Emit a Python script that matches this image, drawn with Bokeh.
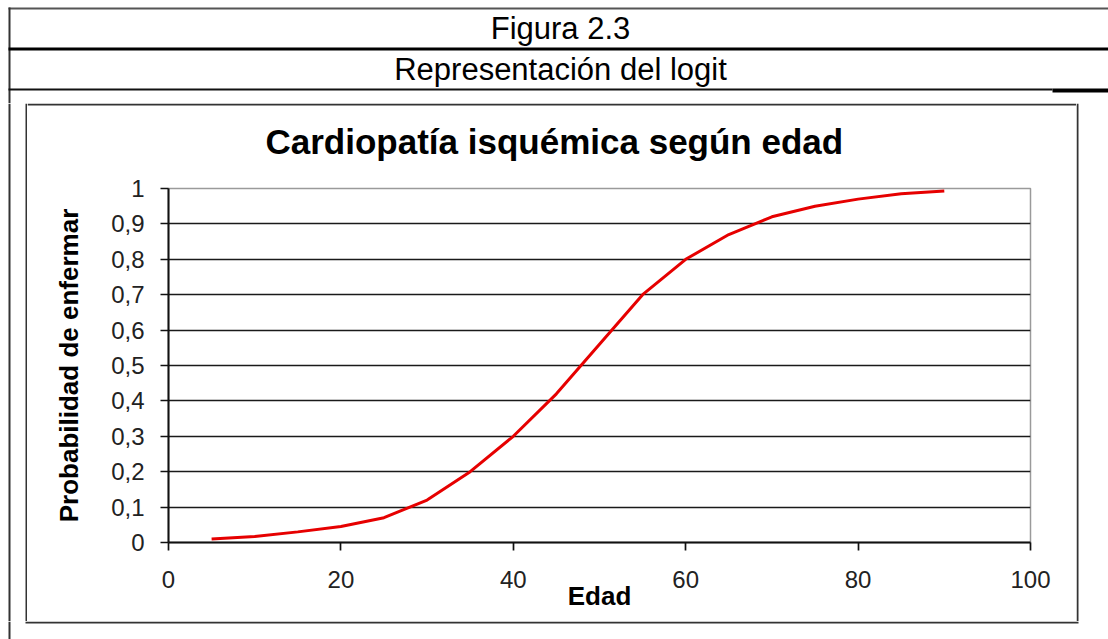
from bokeh.plotting import figure
from bokeh.models import FixedTicker, Range1d
from bokeh.layouts import column, row
from bokeh.core.properties import value
from bokeh.embed import file_html
from bokeh.resources import INLINE

# ---------------- data ----------------
edad = [5, 10, 15, 20, 25, 30, 35, 40, 45, 50, 55, 60, 65, 70, 75, 80, 85, 90]
prob = [0.010, 0.017, 0.030, 0.045, 0.070, 0.12, 0.20, 0.30, 0.42, 0.56, 0.70,
        0.80, 0.87, 0.92, 0.95, 0.97, 0.985, 0.993]
x_ticks = [0, 20, 40, 60, 80, 100]
y_ticks = [0, 0.1, 0.2, 0.3, 0.4, 0.5, 0.6, 0.7, 0.8, 0.9, 1]
y_tick_labels = ["0", "0,1", "0,2", "0,3", "0,4", "0,5", "0,6", "0,7", "0,8", "0,9", "1"]

header1 = "Figura 2.3"
header2 = "Representación del logit"
chart_title = "Cardiopatía isquémica según edad"
x_title = "Edad"
y_title = "Probabilidad de enfermar"

FONT = "Liberation Sans"
W, H = 1108, 639
LINE = "#333333"


def deco(w, h, bg="white"):
    """Plain drawing surface: frame covers the whole canvas, pixel ranges, y pointing down."""
    f = figure(width=w, height=h, output_backend="svg", toolbar_location=None,
               x_range=Range1d(0, w), y_range=Range1d(h, 0),
               x_axis_location=None, y_axis_location=None, title=None,
               min_border=0, min_border_left=0, min_border_right=0,
               min_border_top=0, min_border_bottom=0)
    f.frame_align = False
    f.grid.visible = False
    f.outline_line_color = None
    f.background_fill_color = bg
    f.border_fill_color = bg
    return f


# ---------------- header (page y 0..103) ----------------
hdr = deco(W, 103)
hdr.quad(left=[8, 8, 8, 8, 1052], right=[W, 10, W, 1052, W],
         top=[7, 7, 47, 88, 88], bottom=[9, 103, 50, 90, 92],
         fill_color=["#555555", LINE, "#000000", "#111111", "#000000"],
         line_color=None)
hdr.text(x=[560, 560], y=[28, 69], text=[header1, header2],
         text_font=value(FONT), text_font_size="31px", text_color="#000000",
         text_align="center", text_baseline="middle")

# ---------------- middle band (page y 103..621) ----------------
MH = 518
left_area = deco(27, MH)
left_area.quad(left=[8, 25], right=[10, 27], top=[0, 0], bottom=[MH, MH],
               fill_color=LINE, line_color=None)
right_area = deco(W - 1076, MH)
right_area.quad(left=[0], right=[2], top=[0], bottom=[MH], fill_color=LINE, line_color=None)

IW = 1049
TH = 72
title_fig = deco(IW, TH)
title_fig.quad(left=[0], right=[IW], top=[0], bottom=[2], fill_color=LINE, line_color=None)
title_fig.text(x=[238], y=[38], text=[chart_title],
               text_font=value(FONT), text_font_size="35px", text_font_style="bold",
               text_color="#000000", text_align="left", text_baseline="middle")

CH = MH - TH
p = figure(width=IW, height=CH, output_backend="svg", toolbar_location=None,
           x_range=(0, 100), y_range=(0, 1), title=None,
           min_border_left=141, min_border_right=IW - 1003,
           min_border_top=13, min_border_bottom=CH - 367)
p.frame_align = False
p.background_fill_color = "white"
p.border_fill_color = "white"
p.outline_line_color = "#9a9a9a"
p.outline_line_width = 1.5

p.xgrid.visible = False
p.ygrid.ticker = FixedTicker(ticks=y_ticks[1:-1])
p.ygrid.grid_line_color = "#1a1a1a"
p.ygrid.grid_line_width = 1.7

for ax in (p.xaxis[0], p.yaxis[0]):
    ax.axis_line_color = "#111111"
    ax.axis_line_width = 2
    ax.major_tick_line_color = "#111111"
    ax.major_tick_line_width = 1.7
    ax.major_tick_out = 8
    ax.major_tick_in = 0
    ax.minor_tick_line_color = None
    ax.major_label_text_font = FONT
    ax.major_label_text_font_size = "24px"
    ax.major_label_text_color = "#222222"
    ax.axis_label_text_font = FONT
    ax.axis_label_text_font_size = "26px"
    ax.axis_label_text_font_style = "bold"
    ax.axis_label_text_color = "#000000"

p.xaxis.ticker = FixedTicker(ticks=x_ticks)
p.xaxis.major_label_standoff = 20
p.xaxis.axis_label = x_title
p.xaxis.axis_label_standoff = -10
p.yaxis.ticker = FixedTicker(ticks=y_ticks)
p.yaxis.major_label_overrides = {t: l for t, l in zip(y_ticks, y_tick_labels)}
p.yaxis.major_label_standoff = 16
p.yaxis.axis_label = y_title
p.yaxis.axis_label_standoff = 24

p.line(edad, prob, line_color="#e60000", line_width=3)

# ---------------- bottom band (page y 621..639) ----------------
bottom_area = deco(W, H - 621)
bottom_area.quad(left=[8, 25], right=[10, 1078], top=[0, 0], bottom=[H - 621, 2],
                 fill_color=LINE, line_color=None)

inner = column([title_fig, p], spacing=0)
middle = row([left_area, inner, right_area], spacing=0)
layout = column([hdr, middle, bottom_area], spacing=0)

open("out.html", "w").write(file_html(layout, INLINE))
